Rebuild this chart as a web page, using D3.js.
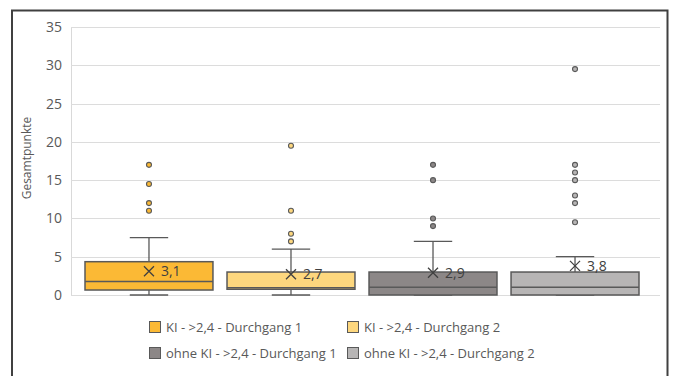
<!DOCTYPE html>
<html>
<head>
<meta charset="utf-8">
<script src="https://cdn.jsdelivr.net/npm/d3@7/dist/d3.min.js"></script>
<style>
  html, body { margin: 0; padding: 0; background: #fff; }
  svg { display: block; font-family: "Open Sans", "Noto Sans", sans-serif; }
</style>
</head>
<body>
<svg id="chart" width="673" height="376"></svg>
<script>
// Series (one box per group)
const seriesNames = [
  "KI - >2,4 - Durchgang 1",
  "KI - >2,4 - Durchgang 2",
  "ohne KI - >2,4 - Durchgang 1",
  "ohne KI - >2,4 - Durchgang 2"
];
const seriesColors = ["#FBB935", "#FDD77E", "#8C8787", "#B7B5B5"];

// Five-number summaries
const whiskerLow = [0, 0, 0, 0];
const q1Values   = [0.65, 0.75, 0, 0];
const medians    = [1.75, 0.95, 1, 1];
const q3Values   = [4.35, 3, 3, 3];
const whiskerHigh = [7.5, 6, 7, 5];
const means      = [3.1, 2.7, 2.9, 3.8];
const meanLabels = ["3,1", "2,7", "2,9", "3,8"];

// Outliers per series
const outliers = [
  [17, 14.5, 12, 11],
  [19.5, 11, 8, 7],
  [17, 15, 10, 9],
  [29.5, 17, 16, 15, 13, 12, 9.5]
];

const yTicks = [0, 5, 10, 15, 20, 25, 30, 35];
const yTitle = "Gesamtpunkte";

const svg = d3.select("#chart");
const ink = "#595959";

// Outer frame
svg.append("path")
  .attr("d", "M12,377 V10.5 H667.5 V377")
  .attr("fill", "none")
  .attr("stroke", "#404040")
  .attr("stroke-width", 2);

const plot = { left: 71, right: 660, top: 27, bottom: 295 };

const y = d3.scaleLinear().domain([0, 35]).range([plot.bottom, plot.top]);
const x = d3.scaleBand()
  .domain(d3.range(seriesNames.length))
  .range([85, 639])
  .paddingInner(0.099)
  .paddingOuter(0);

// Gridlines and axis labels
const yAxis = d3.axisLeft(y).tickValues(yTicks).tickSize(0).tickPadding(9)
  .tickFormat(d3.format("d"));
const gAxis = svg.append("g").attr("transform", `translate(${plot.left},0)`).call(yAxis);
gAxis.select(".domain").attr("stroke", "#d9d9d9").attr("stroke-width", 1);
gAxis.selectAll("text").attr("fill", ink).style("font-size", "14px")
  .style("font-family", "'Open Sans', sans-serif");

svg.append("g").selectAll("line").data(yTicks).join("line")
  .attr("x1", plot.left).attr("x2", plot.right)
  .attr("y1", d => Math.round(y(d)) + 0.5).attr("y2", d => Math.round(y(d)) + 0.5)
  .attr("stroke", "#dcdcdc").attr("stroke-width", 1.2);

svg.append("text")
  .attr("transform", `translate(31,158) rotate(-90)`)
  .attr("text-anchor", "middle")
  .attr("fill", ink)
  .style("font-size", "12px")
  .text(yTitle);

// Boxes
const bw = x.bandwidth();
const capW = bw * 0.3;
const boxes = svg.append("g").selectAll("g").data(seriesNames.map((n, i) => i)).join("g");

boxes.each(function(i) {
  const g = d3.select(this);
  const cx = x(i) + bw / 2;
  // whiskers
  g.append("line").attr("x1", cx).attr("x2", cx)
    .attr("y1", y(whiskerHigh[i])).attr("y2", y(q3Values[i]))
    .attr("stroke", ink).attr("stroke-width", 1.3);
  g.append("line").attr("x1", cx).attr("x2", cx)
    .attr("y1", y(q1Values[i])).attr("y2", y(whiskerLow[i]))
    .attr("stroke", ink).attr("stroke-width", 1.3);
  g.append("line").attr("x1", cx - capW / 2).attr("x2", cx + capW / 2)
    .attr("y1", y(whiskerHigh[i])).attr("y2", y(whiskerHigh[i]))
    .attr("stroke", ink).attr("stroke-width", 1.3);
  g.append("line").attr("x1", cx - capW / 2).attr("x2", cx + capW / 2)
    .attr("y1", y(whiskerLow[i])).attr("y2", y(whiskerLow[i]))
    .attr("stroke", ink).attr("stroke-width", 1.3);
  // box
  g.append("rect")
    .attr("x", x(i)).attr("width", bw)
    .attr("y", y(q3Values[i])).attr("height", y(q1Values[i]) - y(q3Values[i]))
    .attr("fill", seriesColors[i]).attr("stroke", ink).attr("stroke-width", 1.5);
  // median
  g.append("line").attr("x1", x(i)).attr("x2", x(i) + bw)
    .attr("y1", y(medians[i])).attr("y2", y(medians[i]))
    .attr("stroke", ink).attr("stroke-width", 1.5);
  // mean marker
  const my = y(means[i]), s = 5;
  g.append("path")
    .attr("d", `M${cx - s},${my - s}L${cx + s},${my + s}M${cx - s},${my + s}L${cx + s},${my - s}`)
    .attr("stroke", "#404040").attr("stroke-width", 1.3).attr("fill", "none");
  g.append("text")
    .attr("x", cx + 12).attr("y", my)
    .attr("dy", "0.35em")
    .attr("fill", "#404040")
    .style("font-size", "14px")
    .text(meanLabels[i]);
  // outliers
  g.selectAll("circle").data(outliers[i]).join("circle")
    .attr("cx", cx).attr("cy", d => y(d)).attr("r", 2.5)
    .attr("fill", seriesColors[i]).attr("stroke", ink).attr("stroke-width", 1.1);
});

// Legend
const legendPos = [[149, 327], [347, 327], [149, 353], [347, 353]];
const legend = svg.append("g").selectAll("g").data(seriesNames).join("g")
  .attr("transform", (d, i) => `translate(${legendPos[i][0]},${legendPos[i][1]})`);
legend.append("rect")
  .attr("x", 0.5).attr("y", -5.5).attr("width", 11).attr("height", 11)
  .attr("fill", (d, i) => seriesColors[i]).attr("stroke", ink).attr("stroke-width", 1);
legend.append("text")
  .attr("x", 17).attr("y", 0).attr("dy", "0.35em")
  .attr("fill", ink)
  .style("font-size", "13px")
  .text(d => d);
</script>
</body>
</html>
